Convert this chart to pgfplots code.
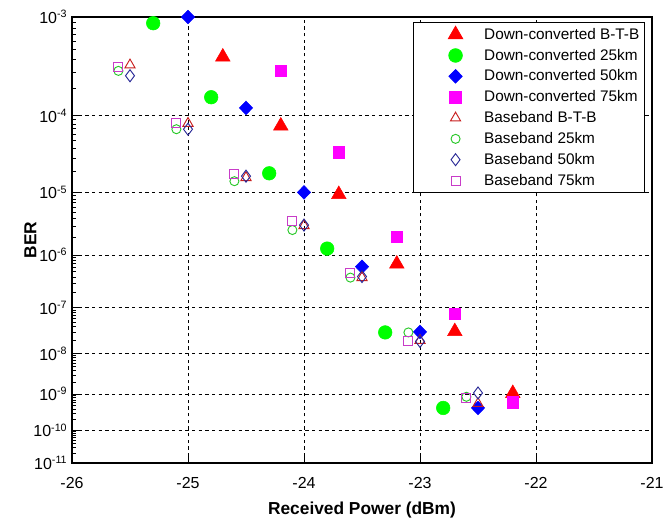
\documentclass[border=0pt]{standalone}
\usepackage{fontspec}
\setmainfont{Liberation Sans}
\usepackage{pgfplots}
\pgfplotsset{compat=1.18}

\definecolor{dcred}{RGB}{255,0,0}
\definecolor{dcgreen}{RGB}{0,255,0}
\definecolor{dcblue}{RGB}{0,0,255}
\definecolor{dcmag}{RGB}{255,0,255}
\definecolor{bbred}{RGB}{200,30,30}
\definecolor{bbgreen}{RGB}{40,200,40}
\definecolor{bbblue}{RGB}{40,40,150}
\definecolor{bbmag}{RGB}{200,60,200}

% minor ticks inside each decade (values are log10 of BER)
\def\minorlist{-11}
\foreach \n in {3,...,10}{%
  \foreach \k in {2,...,9}{%
    \pgfmathparse{-\n-1+ln(\k)/ln(10)}%
    \xdef\minorlist{\minorlist,\pgfmathresult}}}

\begin{document}
\begin{tikzpicture}
\begin{axis}[
    scale only axis,
    width=435pt, height=334.5pt,
    xmin=-26, xmax=-21, ymin=-11, ymax=-3,
    % BER scale: position = -log(-log10(BER))
    y coord trafo/.code={\pgfmathparse{-ln(-(#1))}},
    xtick={-26,-25,...,-21},
    ytick={-3,-4,-5,-6,-7,-8,-9,-10,-11},
    yticklabels={10\textsuperscript{-3},10\textsuperscript{-4},10\textsuperscript{-5},
      10\textsuperscript{-6},10\textsuperscript{-7},10\textsuperscript{-8},
      10\textsuperscript{-9},10\textsuperscript{-10},10\textsuperscript{-11}},
    minor ytick/.expanded={\minorlist},
    xtick pos=bottom, ytick pos=left,
    tick align=inside,
    major tick length=5pt, minor tick length=3pt,
    tick style={black, line width=0.6pt},
    xmajorgrids, ymajorgrids,
    major grid style={black, line width=0.6pt, dash pattern=on 2.5pt off 2.5pt},
    axis line style={line width=0.8pt},
    /pgf/number format/assume math mode=true,
    ticklabel style={font=\fontsize{12}{14}\selectfont},
    xticklabel style={yshift=-7pt},
    xlabel={\textbf{Received Power (dBm)}},
    ylabel={\textbf{BER}},
    label style={font=\fontsize{13}{15}\selectfont},
    xlabel style={yshift=-3pt},
    ylabel style={yshift=-9pt},
    clip=false,
    legend style={at={(0.988,0.988)}, anchor=north east, draw=black,
      line width=0.6pt, font=\fontsize{11.5}{13.5}\selectfont,
      cells={anchor=west}, row sep=1.8pt, inner xsep=2pt},
    legend image code/.code={\path[draw=none] (0pt,0pt) -- (49pt,0pt);
      \draw[#1] plot[only marks] coordinates {(29.5pt,0pt)};},
]
\addplot[only marks, mark=triangle*, mark size=6.3pt, color=dcred]
  coordinates {(-24.7,-3.37) (-24.2,-4.12) (-23.7,-5.03) (-23.2,-6.16) (-22.7,-7.50) (-22.2,-8.98)};
\addlegendentry{Down-converted B-T-B}
\addplot[only marks, mark=*, mark size=5.1pt, color=dcgreen]
  coordinates {(-25.3,-3.055) (-24.8,-3.79) (-24.3,-4.73) (-23.8,-5.89) (-23.3,-7.52) (-22.8,-9.37)};
\addlegendentry{Down-converted 25km}
\addplot[only marks, mark=diamond*, mark size=5.1pt, color=dcblue, mark options={xscale=1.3}]
  coordinates {(-25.0,-3.0) (-24.5,-3.91) (-24.0,-5.0) (-23.5,-6.21) (-23.0,-7.51) (-22.5,-9.37)};
\addlegendentry{Down-converted 50km}
\addplot[only marks, mark=square*, mark size=4.3pt, color=dcmag]
  coordinates {(-24.2,-3.51) (-23.7,-4.45) (-23.2,-5.69) (-22.7,-7.12) (-22.2,-9.22)};
\addlegendentry{Down-converted 75km}
\addplot[only marks, mark=triangle, mark size=4.4pt, color=bbred, line width=0.7pt]
  coordinates {(-25.5,-3.45) (-25.0,-4.09) (-24.5,-4.79) (-24.0,-5.51) (-23.5,-6.41) (-23.0,-7.70) (-22.5,-9.25)};
\addlegendentry{Baseband B-T-B}
\addplot[only marks, mark=o, mark size=3.4pt, color=bbgreen, line width=0.7pt]
  coordinates {(-25.6,-3.51) (-25.1,-4.16) (-24.6,-4.84) (-24.1,-5.58) (-23.6,-6.41) (-23.1,-7.52) (-22.6,-9.07)};
\addlegendentry{Baseband 25km}
\addplot[only marks, mark=diamond, mark size=4.5pt, color=bbblue, line width=0.7pt]
  coordinates {(-25.5,-3.56) (-25.0,-4.16) (-24.5,-4.77) (-24.0,-5.50) (-23.5,-6.39) (-23.0,-7.72) (-22.5,-8.97)};
\addlegendentry{Baseband 50km}
\addplot[only marks, mark=square, mark size=3.4pt, color=bbmag, line width=0.7pt]
  coordinates {(-25.6,-3.47) (-25.1,-4.08) (-24.6,-4.74) (-24.1,-5.43) (-23.6,-6.33) (-23.1,-7.70) (-22.6,-9.10)};
\addlegendentry{Baseband 75km}
\end{axis}
\pgfresetboundingbox
\path ([xshift=-54pt,yshift=-41.25pt]current axis.south west)
  rectangle ([xshift=8.25pt,yshift=12.75pt]current axis.north east);
\end{tikzpicture}
\end{document}
